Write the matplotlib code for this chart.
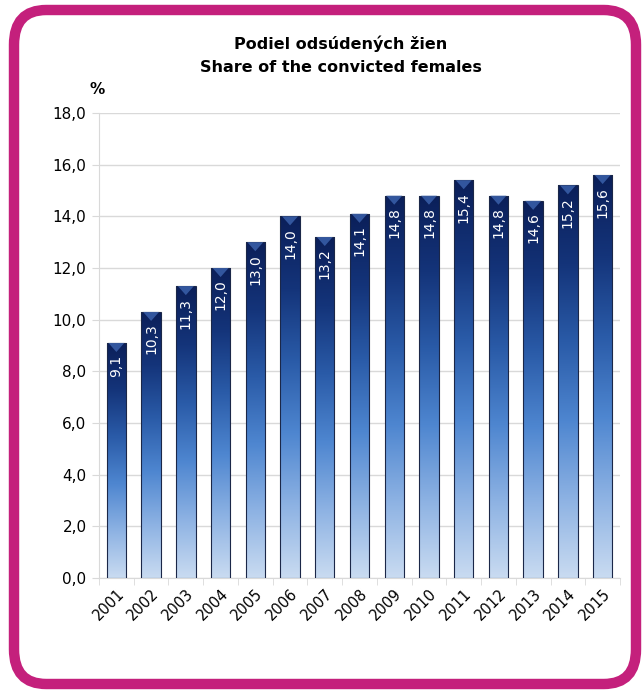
import numpy as np
import matplotlib
matplotlib.use("Agg")
import matplotlib.pyplot as plt
from matplotlib.patches import FancyBboxPatch, Rectangle, Polygon
from matplotlib.colors import LinearSegmentedColormap

years = ['2001', '2002', '2003', '2004', '2005', '2006', '2007', '2008',
         '2009', '2010', '2011', '2012', '2013', '2014', '2015']
share = [9.1, 10.3, 11.3, 12.0, 13.0, 14.0, 13.2, 14.1,
         14.8, 14.8, 15.4, 14.8, 14.6, 15.2, 15.6]
yticks = [0, 2, 4, 6, 8, 10, 12, 14, 16, 18]

plt.rcParams['font.family'] = ['DejaVu Sans']

fig = plt.figure(figsize=(6.44, 6.95), dpi=100)
fig.patch.set_facecolor('white')

# rounded magenta frame
frame = FancyBboxPatch((14 / 644, 11 / 695), 622 / 644, 674 / 695,
                       boxstyle="round,pad=0,rounding_size=0.05",
                       transform=fig.transFigure, facecolor='none',
                       edgecolor='#C4207C', linewidth=7.5, zorder=10)
fig.patches.append(frame)

ax = fig.add_axes([99 / 644, 1 - 578 / 695, 521 / 644, 465 / 695])
ax.set_facecolor('none')

cmap = LinearSegmentedColormap.from_list(
    'bar', ['#C9DBF1', '#8DB2E3', '#4E86D0', '#2A5BA8', '#14347A', '#0B1F59'])
grad = np.linspace(0, 1, 256).reshape(-1, 1)

x = np.arange(len(years))
w = 0.56
for xi, v in zip(x, share):
    im = ax.imshow(grad, cmap=cmap, origin='lower', aspect='auto',
                   extent=(xi - w / 2, xi + w / 2, 0, v), zorder=3)
    rect = Rectangle((xi - w / 2, 0), w, v, facecolor='none',
                     edgecolor='#1B2748', linewidth=0.8, zorder=4)
    ax.add_patch(rect)
    im.set_clip_path(rect)
    # small bevel triangle at the top
    tri = Polygon([(xi - w / 2 + 0.05, v), (xi + w / 2 - 0.05, v), (xi, v - 0.35)],
                  closed=True, facecolor='#3D64B0', edgecolor='none', alpha=0.8, zorder=5)
    ax.add_patch(tri)
    ax.text(xi, v - 0.45, f"{v:.1f}".replace('.', ','), rotation=90,
            ha='center', va='top', color='white', fontsize=10, zorder=6)

ax.set_xlim(-0.5, len(years) - 0.5)
ax.set_ylim(0, 18)
ax.set_yticks(yticks)
ax.set_yticklabels([f"{t:.1f}".replace('.', ',') for t in yticks], fontsize=11)
ax.yaxis.grid(True, color='#D9D9D9', linewidth=1)
ax.set_axisbelow(True)

ax.set_xticks(x)
ax.set_xticklabels(years, rotation=45, ha='right', rotation_mode='anchor', fontsize=10.5)
ax.tick_params(axis='x', length=0, pad=6)
ax.set_xticks(np.arange(-0.5, len(years), 1), minor=True)
ax.tick_params(axis='x', which='minor', length=5, color='#D9D9D9')
ax.tick_params(axis='y', length=5, color='#D9D9D9', pad=4)

for s in ['top', 'right']:
    ax.spines[s].set_visible(False)
ax.spines['left'].set_color('#D9D9D9')
ax.spines['bottom'].set_color('#D9D9D9')

fig.text(341 / 644, 1 - 44 / 695, 'Podiel odsúdených žien', ha='center', va='center',
         fontsize=11.5, fontweight='bold')
fig.text(341 / 644, 1 - 67 / 695, 'Share of the convicted females', ha='center', va='center',
         fontsize=11.5, fontweight='bold')
fig.text(97 / 644, 1 - 89 / 695, '%', ha='center', va='center', fontsize=11, fontweight='bold')

fig.savefig('out.png', dpi=100)
